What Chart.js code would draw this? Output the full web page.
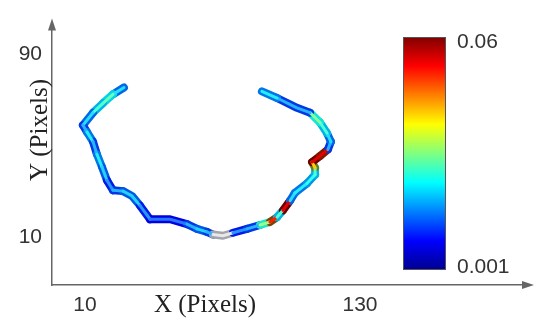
<!DOCTYPE html>
<html lang="en">
<head>
    <meta charset="UTF-8">
    <title>Contour curvature</title>
    <script src="https://cdn.jsdelivr.net/npm/chart.js"></script>
    <style>
        html, body { margin: 0; padding: 0; background: #fff; }
        #wrap { width: 537px; height: 322px; }
    </style>
</head>
<body>
    <div id="wrap"><canvas id="chart" width="537" height="322"></canvas></div>

    <script>
        // contour points (pixels) and the value of each segment (point i -> i+1)
        const xs = [27.0, 22.2, 17.9, 13.5, 9.1, 10.9, 13.5, 15.2, 17.4, 19.6, 22.2, 26.6, 30.5, 34.0,
                    38.4, 47.1, 54.5, 58.9, 63.2, 65.9, 70.2, 74.6, 80.7, 86.4, 90.7, 93.8, 96.4, 99.5,
                    101.6, 106.9, 110.4, 110.4, 109.1, 112.5, 116.0, 117.3, 115.6, 112.5, 108.2, 102.5, 93.8, 87.2];
        const ys = [75.6, 72.6, 68.8, 64.6, 59.1, 56.1, 51.9, 46.4, 40.9, 35.0, 30.7, 30.3, 28.2, 24.0,
                    18.0, 18.0, 15.9, 13.8, 12.5, 11.3, 10.8, 12.1, 13.8, 15.5, 16.8, 18.9, 21.9, 26.1,
                    29.5, 33.7, 37.5, 40.5, 43.0, 45.6, 48.5, 51.9, 55.7, 60.4, 64.6, 66.7, 71.0, 73.9];
        const vals = [0.015, 0.022, 0.020, 0.015, 0.012, 0.016, 0.012, 0.016, 0.014, 0.010, 0.012, 0.014, 0.014, 0.010,
                      0.008, 0.008, 0.012, 0.014, 0.012, 0, 0, 0.010, 0.012, 0.025, 0.045, 0.020, 0.055, 0.015,
                      0.016, 0.018, 0.020, 0.035, 0.055, 0.050, 0.012, 0.015, 0.020, 0.024, 0.012, 0.012, 0.016, 0.016];

        const xTicks = [10, 130];
        const yTicks = [10, 90];
        const cbarMin = 0.001;
        const cbarMax = 0.06;
        const cbarLabels = ['0.06', '0.001'];

        function jet(t) {
            const c = v => Math.max(0, Math.min(1, v));
            return [c(1.5 - Math.abs(4 * t - 3)), c(1.5 - Math.abs(4 * t - 2)), c(1.5 - Math.abs(4 * t - 1))];
        }
        function rgb(a, k, w) {
            const m = a.map(v => Math.round(255 * (v * k * (1 - w) + w)));
            return 'rgb(' + m.join(',') + ')';
        }
        function segColor(ctx, outer) {
            const v = vals[ctx.p0DataIndex];
            if (!v) return outer ? '#a4a4ae' : '#e8e8e8';
            const t = (v - cbarMin) / (cbarMax - cbarMin);
            if (outer) return rgb(jet(t), t > 0.5 ? 0.5 : 0.9, 0);
            return rgb(jet(Math.min(t + 0.1, 0.9)), 1, t > 0.5 ? 0 : 0.15);
        }

        const FONT_NUM = 'Liberation Sans, Arial, sans-serif';
        const FONT_TITLE = 'Liberation Serif, Times New Roman, serif';

        const extras = {
            id: 'extras',
            afterDraw(chart) {
                const ctx = chart.ctx;
                const a = chart.chartArea;
                ctx.save();
                // axis arrows
                ctx.fillStyle = '#666';
                ctx.beginPath();
                ctx.moveTo(a.left, a.top - 4);
                ctx.lineTo(a.left - 4, a.top + 8);
                ctx.lineTo(a.left + 4, a.top + 8);
                ctx.fill();
                ctx.beginPath();
                ctx.moveTo(a.right + 4, a.bottom);
                ctx.lineTo(a.right - 8, a.bottom - 4);
                ctx.lineTo(a.right - 8, a.bottom + 4);
                ctx.fill();

                // axis titles
                ctx.fillStyle = '#222';
                ctx.font = '25px ' + FONT_TITLE;
                ctx.textAlign = 'center';
                ctx.textBaseline = 'middle';
                ctx.fillText('X (Pixels)', 205, 305);
                ctx.translate(40, 130);
                ctx.rotate(-Math.PI / 2);
                ctx.fillText('Y (Pixels)', 0, 0);
                ctx.restore();

                // colour bar
                ctx.save();
                const bx = 403, by = 37, bw = 43, bh = 233;
                const g = ctx.createLinearGradient(0, by + bh, 0, by);
                g.addColorStop(0, '#00008f');
                g.addColorStop(0.125, '#0000ff');
                g.addColorStop(0.375, '#00ffff');
                g.addColorStop(0.625, '#ffff00');
                g.addColorStop(0.875, '#ff0000');
                g.addColorStop(1, '#800000');
                ctx.fillStyle = g;
                ctx.fillRect(bx, by, bw, bh);
                ctx.strokeStyle = '#555';
                ctx.lineWidth = 1;
                ctx.strokeRect(bx + 0.5, by + 0.5, bw - 1, bh - 1);
                ctx.fillStyle = '#333';
                ctx.font = '21px ' + FONT_NUM;
                ctx.textAlign = 'left';
                ctx.textBaseline = 'middle';
                ctx.fillText(cbarLabels[0], 457, 42);
                ctx.fillText(cbarLabels[1], 457, 267);
                ctx.restore();
            }
        };

        function tube(width, outer) {
            return {
                data: xs.map((x, i) => ({ x: x, y: ys[i] })),
                borderWidth: width,
                pointRadius: 0,
                fill: false,
                tension: 0,
                borderCapStyle: 'round',
                borderJoinStyle: 'round',
                segment: {
                    borderWidth: width,
                    borderColor: ctx => segColor(ctx, outer)
                }
            };
        }

        new Chart(document.getElementById('chart'), {
            type: 'line',
            data: {
                // first dataset is drawn on top: core, then outline
                datasets: [tube(3, false), tube(8, true)]
            },
            options: {
                responsive: false,
                animation: false,
                layout: { padding: { top: 14, right: 7, left: 0, bottom: 0 } },
                plugins: { legend: { display: false }, tooltip: { enabled: false } },
                scales: {
                    x: {
                        type: 'linear',
                        min: -4.4,
                        max: 204.2,
                        grid: { display: false, drawTicks: false },
                        border: { display: true, color: '#666', width: 1.5 },
                        afterBuildTicks: s => { s.ticks = xTicks.map(v => ({ value: v })); },
                        afterFit: s => { s.height = 37; },
                        ticks: { color: '#333', padding: 8, font: { family: FONT_NUM, size: 21 } }
                    },
                    y: {
                        type: 'linear',
                        min: -10.74,
                        max: 103.97,
                        grid: { display: false, drawTicks: false },
                        border: { display: true, color: '#666', width: 1.5 },
                        afterBuildTicks: s => { s.ticks = yTicks.map(v => ({ value: v })); },
                        afterFit: s => { s.width = 52; },
                        ticks: { color: '#333', padding: 10, font: { family: FONT_NUM, size: 21 } }
                    }
                }
            },
            plugins: [extras]
        });
    </script>
</body>
</html>
